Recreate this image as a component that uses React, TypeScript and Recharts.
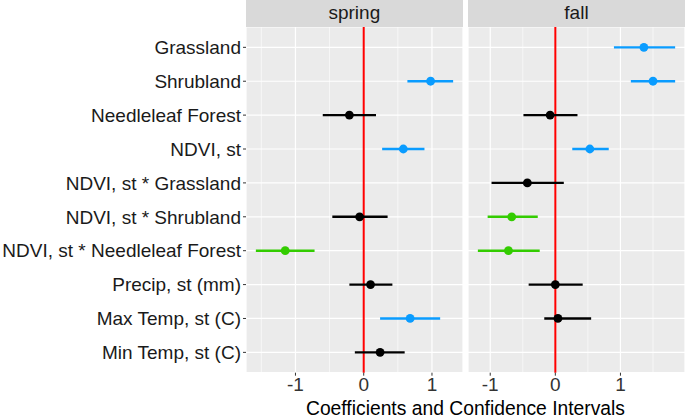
import React from "react";
import {
  ScatterChart,
  Scatter,
  XAxis,
  YAxis,
  CartesianGrid,
  ReferenceLine,
  ErrorBar,
} from "recharts";

const terms = [
  "Grassland",
  "Shrubland",
  "Needleleaf Forest",
  "NDVI, st",
  "NDVI, st * Grassland",
  "NDVI, st * Shrubland",
  "NDVI, st * Needleleaf Forest",
  "Precip, st (mm)",
  "Max Temp, st (C)",
  "Min Temp, st (C)",
];

// null = term not in that season's model
const springEst = [null, 0.98, -0.21, 0.58, null, -0.06, -1.15, 0.1, 0.68, 0.24];
const springLow = [null, 0.64, -0.6, 0.27, null, -0.46, -1.58, -0.21, 0.24, -0.13];
const springHigh = [null, 1.31, 0.18, 0.89, null, 0.35, -0.72, 0.42, 1.12, 0.6];

const fallEst = [1.36, 1.5, -0.08, 0.53, -0.43, -0.67, -0.72, 0.0, 0.04, null];
const fallLow = [0.9, 1.16, -0.49, 0.26, -0.98, -1.04, -1.19, -0.41, -0.17, null];
const fallHigh = [1.84, 1.84, 0.34, 0.82, 0.13, -0.27, -0.24, 0.42, 0.55, null];

const xTicks = [-1, 0, 1];
const minorTicks = [-1.5, -0.5, 0.5, 1.5];

const colors: Record<string, string> = {
  pos: "#0A9CFF",
  neg: "#33CC00",
  ns: "#000000",
};

const FONT = "'Liberation Sans', Arial, sans-serif";

type Row = { row: number; est: number; err: [number, number]; sig: string };

function buildRows(est: (number | null)[], low: (number | null)[], high: (number | null)[]) {
  const out: Row[] = [];
  terms.forEach((_, i) => {
    const e = est[i];
    if (e == null) return;
    const lo = low[i] as number;
    const hi = high[i] as number;
    out.push({
      row: i + 1,
      est: e,
      err: [e - lo, hi - e],
      sig: lo > 0 ? "pos" : hi < 0 ? "neg" : "ns",
    });
  });
  return out;
}

// ggplot style 5% expansion
function expand(low: (number | null)[], high: (number | null)[]): [number, number] {
  const lo = Math.min(...(low.filter((v) => v != null) as number[]));
  const hi = Math.max(...(high.filter((v) => v != null) as number[]));
  const pad = (hi - lo) * 0.05;
  return [lo - pad, hi + pad];
}

function Panel({
  rows,
  domain,
  width,
  showY,
}: {
  rows: Row[];
  domain: [number, number];
  width: number;
  showY: boolean;
}) {
  const groups = ["ns", "pos", "neg"];
  return (
    <ScatterChart
      width={width}
      height={418}
      margin={{ top: 27, right: 0, bottom: 15.3, left: 0 }}
      style={{ fontFamily: FONT }}
    >
      <CartesianGrid fill="#EBEBEB" stroke="#FFFFFF" strokeWidth={1.2} />
      {minorTicks.map((m) => (
        <ReferenceLine key={m} x={m} stroke="#FFFFFF" strokeWidth={0.6} />
      ))}
      <XAxis
        type="number"
        dataKey="est"
        domain={domain}
        ticks={xTicks}
        allowDataOverflow
        height={30}
        tickSize={3}
        tickMargin={2}
        axisLine={false}
        tickLine={{ stroke: "#333333" }}
        tick={{ fontSize: 19, fill: "#333333", fontFamily: FONT }}
      />
      <YAxis
        type="number"
        dataKey="row"
        domain={[0.4, 10.6]}
        reversed
        ticks={terms.map((_, i) => i + 1)}
        interval={0}
        hide={!showY}
        width={246}
        tickSize={3}
        tickMargin={2}
        axisLine={false}
        tickLine={{ stroke: "#333333" }}
        tick={{ fontSize: 19, fill: "#1A1A1A", fontFamily: FONT }}
        tickFormatter={(v: number) => terms[v - 1]}
      />
      <ReferenceLine x={0} stroke="#FF0000" strokeWidth={2} />
      {groups.map((g) => (
        <Scatter
          key={g}
          data={rows.filter((r) => r.sig === g)}
          isAnimationActive={false}
          shape={(p: any) => <circle cx={p.cx} cy={p.cy} r={4.4} fill={colors[g]} />}
        >
          <ErrorBar
            dataKey="err"
            direction="x"
            width={0}
            stroke={colors[g]}
            strokeWidth={2.4}
            isAnimationActive={false}
          />
        </Scatter>
      ))}
    </ScatterChart>
  );
}

const stripStyle: React.CSSProperties = {
  position: "absolute",
  top: 0,
  height: 26.5,
  background: "#D9D9D9",
  color: "#1A1A1A",
  fontSize: 19,
  lineHeight: "26px",
  textAlign: "center",
  fontFamily: FONT,
};

export default function App() {
  const spring = buildRows(springEst, springLow, springHigh);
  const fall = buildRows(fallEst, fallLow, fallHigh);
  return (
    <div
      style={{
        position: "absolute",
        left: 0,
        top: 0,
        width: 685,
        height: 418,
        background: "#FFFFFF",
        overflow: "hidden",
        fontFamily: FONT,
      }}
    >
      <div style={{ position: "absolute", left: 0, top: 0 }}>
        <Panel rows={spring} domain={expand(springLow, springHigh)} width={463} showY />
      </div>
      <div style={{ position: "absolute", left: 468, top: 0 }}>
        <Panel rows={fall} domain={expand(fallLow, fallHigh)} width={217} showY={false} />
      </div>
      <div style={{ ...stripStyle, left: 246, width: 216.7 }}>spring</div>
      <div style={{ ...stripStyle, left: 468, width: 217 }}>fall</div>
      <div
        style={{
          position: "absolute",
          left: 246,
          width: 439,
          top: 400,
          fontSize: 19.3,
          lineHeight: "17px",
          textAlign: "center",
          color: "#000000",
        }}
      >
        Coefficients and Confidence Intervals
      </div>
    </div>
  );
}
